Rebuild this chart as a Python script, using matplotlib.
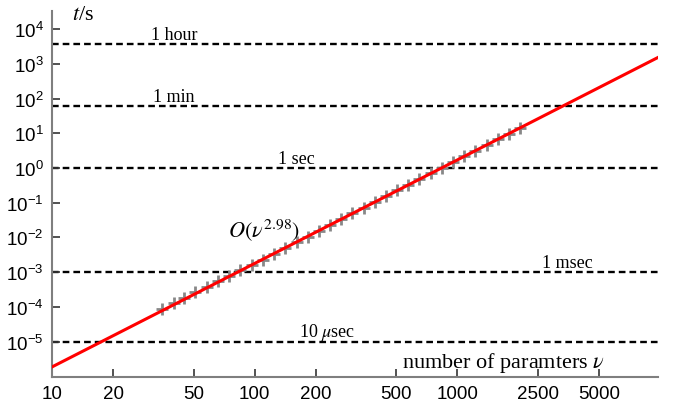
import numpy as np
import matplotlib
matplotlib.use("Agg")
import matplotlib.pyplot as plt
from matplotlib.ticker import FixedLocator, FixedFormatter, NullLocator

# measured run times for each problem size
n_params = [35, 40, 45, 51, 58, 66, 75, 85, 97, 110, 125, 142, 161, 183, 207,
            236, 267, 304, 345, 392, 445, 505, 573, 651, 740, 840, 953, 1082,
            1229, 1396, 1585, 1800, 2042]
run_time = [8.7e-5, 1.3e-4, 1.8e-4, 2.6e-4, 3.8e-4, 5.5e-4, 7.9e-4, 1.12e-3,
            1.6e-3, 2.3e-3, 3.4e-3, 4.9e-3, 7.2e-3, 1.05e-2, 1.52e-2, 2.25e-2,
            3.3e-2, 4.9e-2, 7.1e-2, 0.105, 0.153, 0.225, 0.33, 0.48, 0.70,
            1.02, 1.48, 2.15, 3.1, 4.5, 6.6, 9.6, 14.0]

# power-law fit t = c * nu^k
fit_exponent = 2.98
fit_coef = 1.95e-9

# reference durations in seconds
ref_times = [3600, 60, 1, 1e-3, 1e-5]
ref_labels = ["1 hour", "1 min", "1 sec", "1 msec", r"10 $\mu$sec"]
ref_label_x = [40, 40, 160, 3490, 228]

x_ticks = [10, 20, 50, 100, 200, 500, 1000, 2500, 5000]
x_tick_labels = ["10", "20", "50", "100", "200", "500", "1000", "2500", "5000"]
y_ticks = [10.0 ** e for e in range(-5, 5)]

plt.rcParams["font.family"] = ["Liberation Sans", "DejaVu Sans"]
plt.rcParams["mathtext.fontset"] = "custom"
plt.rcParams["mathtext.rm"] = "Liberation Sans"
plt.rcParams["lines.scale_dashes"] = False

fig = plt.figure(figsize=(6.9, 4.14), dpi=100)
ax = fig.add_axes([0.0754, 0.087, 0.878, 0.884])

xmin, xmax = 10, 10 ** 3.99
ax.set_xscale("log")
ax.set_yscale("log")
ax.set_xlim(xmin, xmax)
ax.set_ylim(10 ** -6.02, 10 ** 4.52)

for t in ref_times:
    ax.axhline(t, color="black", lw=1.7, dashes=(4.8, 2.9), zorder=1)

serif = dict(family=["Liberation Serif", "DejaVu Serif"], math_fontfamily="stix")
for t, lab, lx in zip(ref_times, ref_labels, ref_label_x):
    ax.text(lx, t * 10 ** 0.15, lab, ha="center", va="baseline",
            fontsize=13, **serif)

ax.plot(n_params, run_time, ls="none", marker="+", ms=8.5, mew=2.0,
        color="#888888", zorder=2)

fit_x = np.array([xmin, xmax])
ax.plot(fit_x, fit_coef * fit_x ** fit_exponent, color="#ff0000", lw=2.2,
        zorder=3)

ax.text(74, 0.011, r"$O(\nu^{2.98})$", ha="left", va="baseline",
        fontsize=16, **serif)
ax.text(535, 10 ** -5.73, r"number of paramters $\nu$", ha="left",
        va="baseline", fontsize=16, **serif)
ax.text(12.6, 10 ** 4.29, r"$t$/s", ha="left", va="baseline", fontsize=16,
        **serif)

ax.xaxis.set_major_locator(FixedLocator(x_ticks))
ax.xaxis.set_major_formatter(FixedFormatter(x_tick_labels))
ax.xaxis.set_minor_locator(NullLocator())
ax.yaxis.set_major_locator(FixedLocator(y_ticks))
ax.yaxis.set_minor_locator(NullLocator())

for side in ("top", "right"):
    ax.spines[side].set_visible(False)
for side in ("left", "bottom"):
    ax.spines[side].set_color("#7f7f7f")
    ax.spines[side].set_linewidth(1.5)
ax.tick_params(direction="in", length=6, width=1.2, color="#333333",
               labelsize=13.5, pad=6)

fig.savefig("out.png", dpi=100)
